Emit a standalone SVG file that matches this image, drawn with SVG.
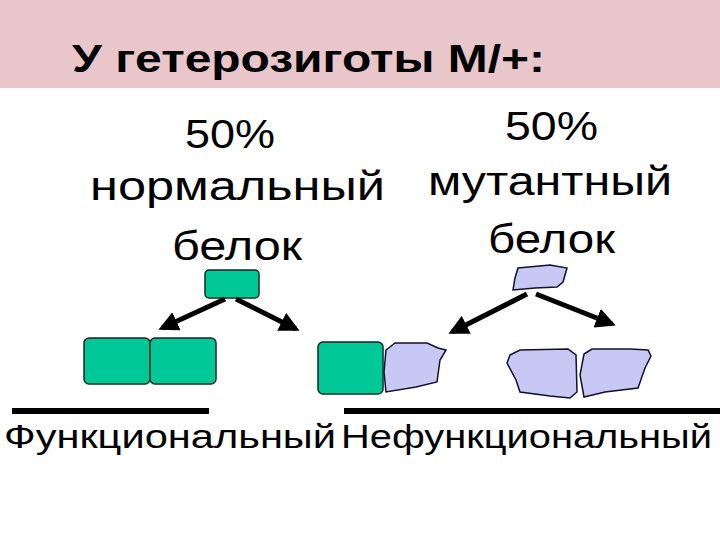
<svg xmlns="http://www.w3.org/2000/svg" width="720" height="540" viewBox="0 0 720 540">
<style>
.t{font-family:"Liberation Sans",Arial,sans-serif;fill:#000}
.n{font-size:40px}
.g{fill:#00c896;stroke:#0a2a20;stroke-width:1.5}
.m{fill:#c8c8f4;stroke:#101030;stroke-width:1.5}
.a{stroke:#000;stroke-width:5;fill:none;marker-end:url(#ah)}
</style>
<defs><marker id="ah" viewBox="0 0 10 10" refX="8" refY="5" markerWidth="4" markerHeight="4" orient="auto" markerUnits="strokeWidth"><path d="M0,0L10,5L0,10z" fill="#000"/></marker></defs>
<rect width="720" height="540" fill="#fff"/>
<rect width="720" height="88" fill="#e9c6ca"/>
<text class="t" x="72" y="72" font-size="38" font-weight="bold" textLength="473" lengthAdjust="spacingAndGlyphs">У гетерозиготы М/+:</text>
<g id="labels">
<text class="t n" x="185" y="148" textLength="90" lengthAdjust="spacingAndGlyphs">50%</text>
<text class="t n" x="90" y="200" textLength="295" lengthAdjust="spacingAndGlyphs">нормальный</text>
<text class="t n" x="172" y="260" textLength="130" lengthAdjust="spacingAndGlyphs">белок</text>
<text class="t n" x="505" y="140" textLength="93" lengthAdjust="spacingAndGlyphs">50%</text>
<text class="t n" x="428" y="195" textLength="244" lengthAdjust="spacingAndGlyphs">мутантный</text>
<text class="t n" x="488" y="253" textLength="127" lengthAdjust="spacingAndGlyphs">белок</text>
<text class="t" x="4" y="448" font-size="33" textLength="332" lengthAdjust="spacingAndGlyphs">Функциональный</text>
<text class="t" x="341" y="448" font-size="33" textLength="371" lengthAdjust="spacingAndGlyphs">Нефункциональный</text>
</g>
<g id="bars"><rect x="12" y="408" width="197" height="6"/><rect x="344" y="408" width="376" height="6"/></g>
<g id="normal-src"><rect class="g" x="205" y="270" width="54" height="28" rx="4"/></g>
<g id="normal-pair"><rect class="g" x="84" y="338" width="66" height="46" rx="5"/><rect class="g" x="150" y="338" width="66" height="46" rx="5"/></g>
<g id="hetero-pair"><rect class="g" x="318" y="342" width="65" height="52" rx="5"/>
<path class="m" d="M386,350 L395,343 L427,343 L438,348 L446,350 L440,360 L437,382 L416,387 L386,392 L384,372 Z"/></g>
<g id="mut-src"><path class="m" d="M518,268 L550,265 L567,268 L563,282 L557,287 L535,288 L513,290 L515,278 Z"/></g>
<g id="mut-pair"><path class="m" d="M510,355 L520,350 L568,349 L576,355 L577,392 L570,398 L550,396 L520,392 L516,380 L507,363 Z"/>
<path class="m" d="M584,354 L592,349 L630,349 L648,350 L651,356 L645,368 L638,388 L605,392 L584,397 L580,375 Z"/></g>
<g id="connectors">
<path class="a" d="M225,299 L162,328"/>
<path class="a" d="M236,299 L296,329"/>
<path class="a" d="M527,294 L452,332"/>
<path class="a" d="M536,294 L612,324"/>
</g>
</svg>
